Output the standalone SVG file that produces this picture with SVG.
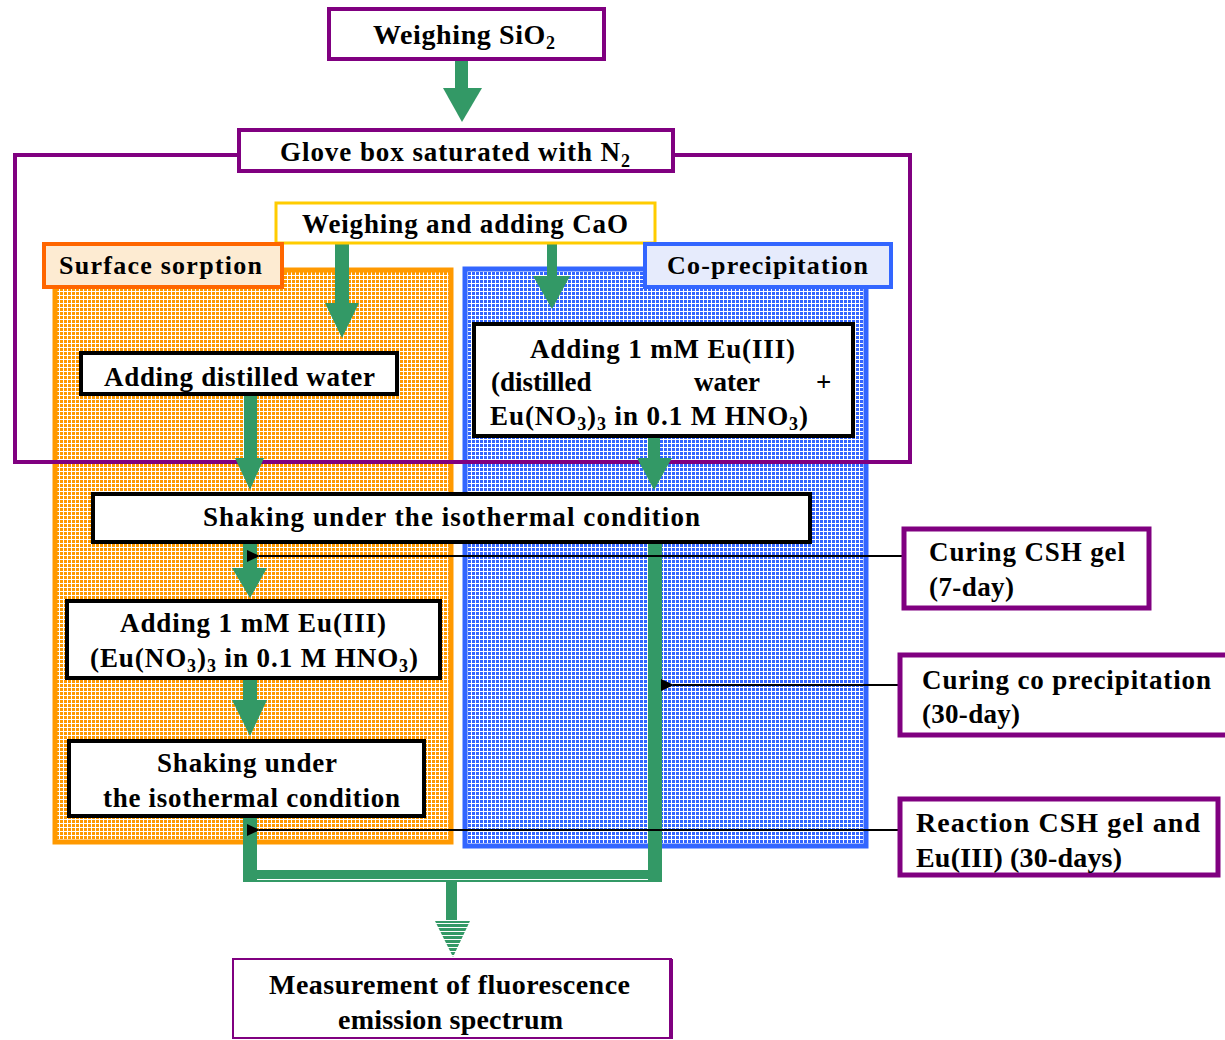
<svg xmlns="http://www.w3.org/2000/svg" width="1225" height="1040" viewBox="0 0 1225 1040">
<style>
.t{font-family:"Liberation Serif","Times New Roman",serif;font-weight:bold;fill:#000;}
.purple{fill:#fff;stroke:#800080;stroke-width:4;}
.blk{fill:#fff;stroke:#000;stroke-width:4;}
.green{fill:#339966;}
.conn{stroke:#000;stroke-width:2;fill:none;}
</style>
<defs>
<pattern id="po" width="4" height="4" patternUnits="userSpaceOnUse"><rect width="4" height="4" fill="#fff"/><rect width="3" height="3" fill="#FF9900"/></pattern>
<pattern id="pb" width="4" height="4" patternUnits="userSpaceOnUse"><rect width="4" height="4" fill="#fff"/><rect width="3" height="3" fill="#3366FF"/></pattern>
<pattern id="ps" width="4" height="4" patternUnits="userSpaceOnUse"><rect y="0" width="4" height="3" fill="#339966"/></pattern>
<marker id="ah" markerWidth="14" markerHeight="14" refX="1" refY="7" orient="auto" markerUnits="userSpaceOnUse"><path d="M13,1 L0,7 L13,13 z" fill="#000"/></marker>
</defs>

<!-- panels -->
<g id="panel-surface">
<rect x="55" y="270" width="396" height="572" fill="url(#po)" stroke="#FF9900" stroke-width="5"/>
</g>
<g id="panel-coprecip">
<rect x="465" y="269" width="401" height="577" fill="url(#pb)" stroke="#3366FF" stroke-width="5"/>
</g>

<!-- glove box outline -->
<g id="glovebox-outline" fill="none" stroke="#800080" stroke-width="4">
<polyline points="240,155 15,155 15,462 910,462 910,155 672,155"/>
</g>

<!-- green flow connectors -->
<g id="connectors">
<rect class="green" x="455" y="60" width="13" height="28"/>
<polygon class="green" points="443,88 482,88 462,122"/>
<rect class="green" x="335" y="244" width="14" height="60"/>
<polygon class="green" points="325,303 359,303 342,338"/>
<rect class="green" x="547" y="244" width="10" height="33"/>
<polygon class="green" points="533,276 570,276 552,309"/>
<rect class="green" x="244" y="395" width="13" height="64"/>
<polygon class="green" points="235,458 264,458 250,490"/>
<rect class="green" x="648" y="437" width="12" height="22"/>
<polygon class="green" points="637,458 672,458 654,490"/>
<rect class="green" x="243" y="543" width="14" height="26"/>
<polygon class="green" points="232,568 267,568 250,598"/>
<rect class="green" x="243" y="679" width="14" height="22"/>
<polygon class="green" points="232,700 267,700 250,736"/>
<rect class="green" x="243" y="817" width="14" height="65"/>
<rect class="green" x="648" y="543" width="14" height="339"/>
<rect class="green" x="243" y="870" width="419" height="9"/>
<rect class="green" x="243" y="880" width="419" height="2"/>
<rect class="green" x="446" y="882" width="11" height="38"/>
<polygon fill="url(#ps)" points="435,921 470,921 453,957"/>
<line class="conn" x1="902" y1="556" x2="259" y2="556" marker-end="url(#ah)"/>
<line class="conn" x1="898" y1="685" x2="673" y2="685" marker-end="url(#ah)"/>
<line class="conn" x1="898" y1="830" x2="259" y2="830" marker-end="url(#ah)"/>
</g>

<g id="weighing-sio2">
<rect class="purple" x="329" y="9" width="275" height="50"/>
<text class="t" x="373" y="44" font-size="28" textLength="182" lengthAdjust="spacing">Weighing SiO<tspan font-size="18" dy="5">2</tspan></text>
</g>

<g id="glove-box">
<rect class="purple" x="239" y="130" width="434" height="41"/>
<text class="t" x="280" y="161" font-size="27" textLength="350" lengthAdjust="spacing">Glove box saturated with N<tspan font-size="18" dy="6">2</tspan></text>
</g>

<g id="weighing-cao">
<rect x="276" y="203" width="379" height="40" fill="#fff" stroke="#FFCC00" stroke-width="3"/>
<text class="t" x="302" y="233" font-size="27" textLength="326" lengthAdjust="spacing">Weighing and adding CaO</text>
</g>

<g id="surface-sorption-label">
<rect x="44" y="244" width="238" height="43" fill="#FDEBD2" stroke="#FF6600" stroke-width="4"/>
<text class="t" x="59" y="274" font-size="26" textLength="203" lengthAdjust="spacing">Surface sorption</text>
</g>

<g id="coprecip-label">
<rect x="645" y="244" width="246" height="43" fill="#E6EBFC" stroke="#3366FF" stroke-width="4"/>
<text class="t" x="667" y="274" font-size="26" textLength="201" lengthAdjust="spacing">Co-precipitation</text>
</g>

<g id="adding-water">
<rect class="blk" x="81" y="353" width="316" height="41"/>
<text class="t" x="104" y="386" font-size="27" textLength="271" lengthAdjust="spacing">Adding distilled water</text>
</g>

<g id="adding-eu-coprecip">
<rect class="blk" x="474" y="324" width="379" height="112"/>
<text class="t" x="530" y="358" font-size="27" textLength="265" lengthAdjust="spacing">Adding 1 mM Eu(III)</text>
<text class="t" x="491" y="391" font-size="27">(distilled</text>
<text class="t" x="694" y="391" font-size="27">water</text>
<text class="t" x="816" y="391" font-size="27" font-weight="normal">+</text>
<text class="t" x="490" y="425" font-size="27" textLength="318" lengthAdjust="spacing">Eu(NO<tspan font-size="18" dy="5">3</tspan><tspan dy="-5">)</tspan><tspan font-size="18" dy="5">3</tspan><tspan dy="-5"> in 0.1 M HNO</tspan><tspan font-size="18" dy="5">3</tspan><tspan dy="-5">)</tspan></text>
</g>

<g id="shaking-1">
<rect class="blk" x="93" y="494" width="717" height="48"/>
<text class="t" x="203" y="526" font-size="27" textLength="497" lengthAdjust="spacing">Shaking under the isothermal  condition</text>
</g>

<g id="adding-eu-surface">
<rect class="blk" x="67" y="601" width="373" height="77"/>
<text class="t" x="120" y="632" font-size="27" textLength="266" lengthAdjust="spacing">Adding 1 mM Eu(III)</text>
<text class="t" x="90" y="667" font-size="27" font-weight="normal" textLength="328" lengthAdjust="spacing">(Eu(NO<tspan font-size="18" dy="5">3</tspan><tspan dy="-5">)</tspan><tspan font-size="18" dy="5">3</tspan><tspan dy="-5"> in 0.1 M HNO</tspan><tspan font-size="18" dy="5">3</tspan><tspan dy="-5">)</tspan></text>
</g>

<g id="shaking-2">
<rect class="blk" x="69" y="741" width="355" height="75"/>
<text class="t" x="157" y="772" font-size="27" textLength="180" lengthAdjust="spacing">Shaking under</text>
<text class="t" x="103" y="807" font-size="27" textLength="297" lengthAdjust="spacing">the isothermal condition</text>
</g>

<g id="curing-csh">
<rect x="904" y="529" width="245" height="79" fill="#fff" stroke="#800080" stroke-width="5"/>
<text class="t" x="929" y="561" font-size="27" textLength="196" lengthAdjust="spacing">Curing CSH gel</text>
<text class="t" x="929" y="596" font-size="27" textLength="85" lengthAdjust="spacing">(7-day)</text>
</g>

<g id="curing-coprecip">
<rect x="900" y="655" width="340" height="80" fill="#fff" stroke="#800080" stroke-width="5"/>
<text class="t" x="922" y="689" font-size="27" textLength="289" lengthAdjust="spacing">Curing co precipitation</text>
<text class="t" x="922" y="723" font-size="27" textLength="98" lengthAdjust="spacing">(30-day)</text>
</g>

<g id="reaction">
<rect x="900" y="799" width="318" height="76" fill="#fff" stroke="#800080" stroke-width="5"/>
<text class="t" x="916" y="832" font-size="28" textLength="284" lengthAdjust="spacing">Reaction CSH gel and</text>
<text class="t" x="916" y="867" font-size="28" textLength="206" lengthAdjust="spacing">Eu(III) (30-days)</text>
</g>

<g id="measurement">
<rect x="233" y="959" width="438" height="79" fill="#fff" stroke="#800080" stroke-width="2"/>
<rect x="669" y="959" width="4" height="80" fill="#800080"/>
<text class="t" x="269" y="994" font-size="28" textLength="361" lengthAdjust="spacing">Measurement of fluorescence</text>
<text class="t" x="338" y="1029" font-size="28" textLength="225" lengthAdjust="spacing">emission spectrum</text>
</g>
</svg>
